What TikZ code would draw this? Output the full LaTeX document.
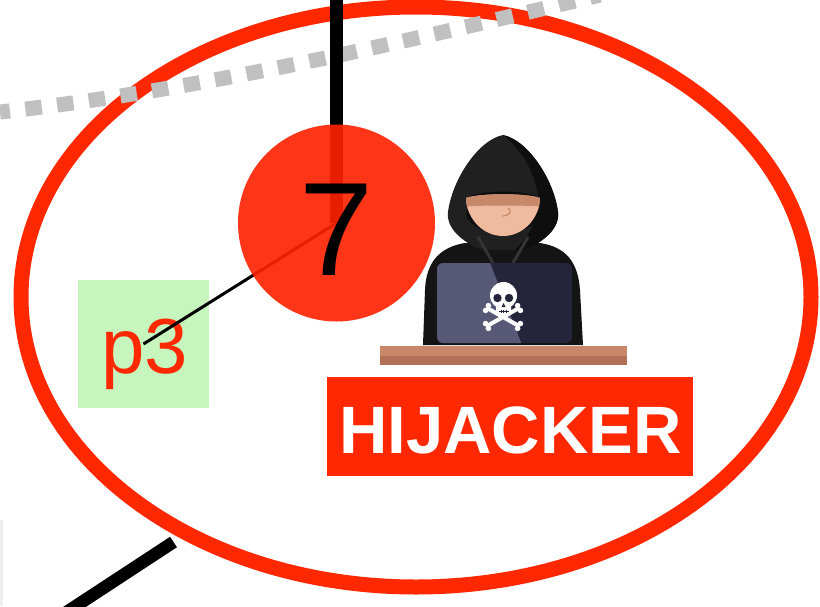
\documentclass[tikz,border=0pt]{standalone}
\usepackage{fontspec}
\setmainfont{Liberation Sans}
\usetikzlibrary{shapes.geometric}

\definecolor{ringred}{RGB}{255,40,0}
\definecolor{dotred}{RGB}{255,33,0}
\definecolor{tagred}{RGB}{255,40,0}
\definecolor{boxgreen}{RGB}{198,245,190}
\definecolor{dashgray}{RGB}{192,192,192}
\definecolor{edgegray}{RGB}{238,238,238}
\definecolor{skin}{RGB}{240,186,158}
\definecolor{skinshade}{RGB}{200,136,106}
\definecolor{hoodlight}{RGB}{32,32,32}
\definecolor{hooddark}{RGB}{14,14,14}
\definecolor{bodyblack}{RGB}{20,20,20}
\definecolor{collar}{RGB}{52,52,56}
\definecolor{lapdark}{RGB}{36,36,58}
\definecolor{laplight}{RGB}{88,89,118}
\definecolor{desktop}{RGB}{201,134,104}
\definecolor{deskfront}{RGB}{178,112,88}

\tikzset{
  ringstyle/.style={ellipse, draw=ringred, line width=15pt, inner sep=0pt,
    minimum width=790pt, minimum height=580pt},
  dotstyle/.style={circle, fill=dotred, fill opacity=0.91, inner sep=0pt,
    minimum size=197pt},
  tagbox/.style={rectangle, fill=tagred, inner sep=0pt,
    minimum width=366pt, minimum height=99pt},
  pbox/.style={rectangle, fill=boxgreen, inner sep=0pt,
    minimum width=131pt, minimum height=128pt},
  thickwire/.style={line width=12.5pt, black},
  thinwire/.style={line width=3pt, black},
  graydash/.style={line width=15pt, dashgray,
    dash pattern=on 16.5pt off 15.5pt, dash phase=6.5pt},
}

\begin{document}
\begin{tikzpicture}[x=1pt, y=-1pt]
\useasboundingbox (0,0) rectangle (820,606);
\fill[white] (0,0) rectangle (820,606);

% faint strip at the left border
\fill[edgegray] (0,520) rectangle (2.5,606);

% red outline around the hijacked node
\node[ringstyle] (ring) at (416,297) {};

% grey dashed link
\coordinate (dA) at (0,112);
\coordinate (dB) at (600,-5);
\draw[graydash] (dA) .. controls (200,90) and (400,43) .. (dB);

% label box p3
\node[pbox] (p3) at (143.5,344) {};
\node[anchor=base, text=tagred, inner sep=0pt,
      font=\fontsize{78}{80}\selectfont] (p3t) at (145,373) {p3};

% node 7 and its wires
\coordinate (n7c) at (336.5,223);
\coordinate (top) at (336.5,-10);
\coordinate (blA) at (173.5,542);
\coordinate (blB) at (50,623);
\draw[thickwire] (n7c) -- (top);
\draw[thinwire] (n7c) -- (p3.center);
\draw[thickwire] (blA) -- (blB);
\node[dotstyle] (n7) at (n7c) {};
\node[anchor=base, inner sep=0pt, text=black,
      font=\fontsize{133}{135}\selectfont] (seven) at (336.5,275) {7};

% ---- hooded figure ----
% torso
\fill[bodyblack] (423,345) -- (425,290)
  .. controls (426,262) and (440,247) .. (465,243) -- (540,243)
  .. controls (566,247) and (578,262) .. (580,290) -- (583,345) -- cycle;
% hood
\fill[hoodlight] (503,135) .. controls (478,140) and (452,180) .. (448,212)
  .. controls (446,228) and (462,242) .. (482,250) -- (524,250)
  .. controls (544,242) and (560,228) .. (558,212)
  .. controls (554,180) and (528,140) .. (503,135) -- cycle;
\fill[hooddark] (503,135) .. controls (528,140) and (554,180) .. (558,212)
  .. controls (560,228) and (544,242) .. (524,250) -- (515,250)
  .. controls (535,230) and (540,210) .. (538,195)
  .. controls (534,170) and (520,148) .. (503,135) -- cycle;
\fill[hooddark] (470,196) .. controls (486,190) and (520,190) .. (536,196)
  -- (540,215) .. controls (530,240) and (476,240) .. (466,215) -- cycle;
% face
\fill[skin] (466,198) .. controls (480,193) and (526,193) .. (540,198)
  .. controls (540,216) and (525,236) .. (503,236)
  .. controls (481,236) and (466,216) .. (466,198) -- cycle;
\begin{scope}
  \clip (466,198) .. controls (480,193) and (526,193) .. (540,198)
    .. controls (540,216) and (525,236) .. (503,236)
    .. controls (481,236) and (466,216) .. (466,198) -- cycle;
  \fill[skinshade] (460,188) -- (546,188) -- (546,207)
    .. controls (530,205) and (476,205) .. (460,207) -- cycle;
\end{scope}
\draw[skinshade, line width=1.2pt, line cap=round]
  (508,208) .. controls (512,211) and (511,215) .. (503,216);
% collar folds
\draw[collar, line width=3pt] (478,237) -- (493,263);
\draw[collar, line width=3pt] (528,237) -- (513,263);
% laptop lid
\fill[lapdark, rounded corners=6pt] (437,343) -- (437,263) -- (572,263)
  -- (572,343) -- cycle;
\begin{scope}
  \clip[rounded corners=6pt] (437,343) -- (437,263) -- (572,263)
    -- (572,343) -- cycle;
  \fill[laplight] (430,255) -- (487,255) -- (524,350) -- (430,350) -- cycle;
\end{scope}
% crossbones
\foreach \ax/\ay/\bx/\by in {487/308/519/326, 487/326/519/308}{
  \draw[white, line width=4pt] (\ax,\ay) -- (\bx,\by);
}
\fill[white] (488.4,305.6) circle[radius=2.8pt] (485.6,310.4) circle[radius=2.8pt]
  (520.4,323.6) circle[radius=2.8pt] (517.6,328.4) circle[radius=2.8pt]
  (488.4,328.4) circle[radius=2.8pt] (485.6,323.6) circle[radius=2.8pt]
  (520.4,310.4) circle[radius=2.8pt] (517.6,305.6) circle[radius=2.8pt];
% skull
\fill[white] (503.5,295.5) circle[radius=13.5pt];
\fill[white, rounded corners=2pt] (496,300) rectangle (511,315);
\fill[lapdark] (497.5,298) circle[radius=4.2pt] (509,298) circle[radius=4.2pt];
\fill[lapdark] (503.5,303) -- (501.5,307) -- (505.5,307) -- cycle;
\draw[lapdark, line width=0.7pt] (498.5,311) -- (508.5,311)
  (501,309.5) -- (501,313) (503.5,309.5) -- (503.5,313) (506,309.5) -- (506,313);
% desk
\fill[desktop] (380,346) rectangle (627,356);
\fill[deskfront] (380,356) rectangle (627,365);

% hijacker tag
\node[tagbox] (tag) at (510,426.5) {};
\node[anchor=base, inner sep=0pt, text=white,
      font=\fontsize{67}{70}\selectfont\bfseries] (tagtext) at (510.5,453) {HIJACKER};
\end{tikzpicture}
\end{document}
